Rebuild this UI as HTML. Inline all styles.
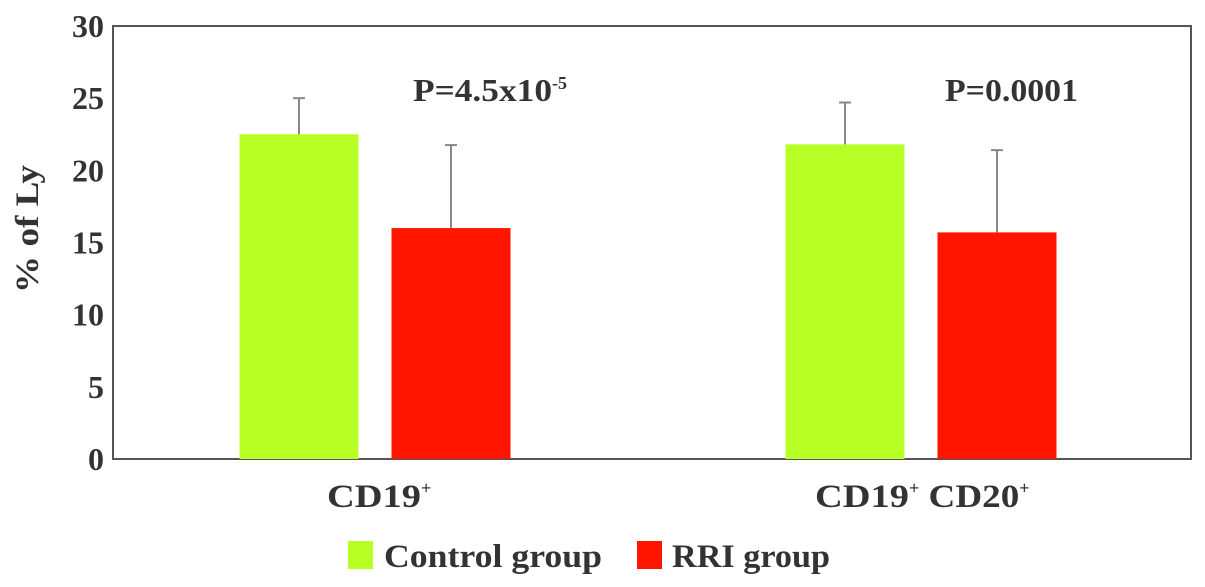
<!DOCTYPE html>
<html><head><meta charset="utf-8"><style>
html,body{margin:0;padding:0;background:#fff;}
svg{display:block;font-family:"Liberation Serif",serif;font-weight:bold;}
</style></head><body>
<svg width="1205" height="587" viewBox="0 0 1205 587">
<g id="chart"></g>
</svg>
<script>
const categories = ["CD19", "CD19 CD20"];
const controlValues = [22.5, 21.8];
const controlErrors = [2.5, 2.9];
const rriValues = [16.0, 15.7];
const rriErrors = [5.75, 5.7];
const yTicks = [0, 5, 10, 15, 20, 25, 30];
const pLabels = ["P=4.5x10", "P=0.0001"];

const NS = "http://www.w3.org/2000/svg";
const g = document.getElementById('chart');
const L = 113, R = 1191, T = 26, B = 459;
const yMax = 30;
function y(v){ return B - v / yMax * (B - T); }
const catCenters = [375, 921];
function xCat(i){ return catCenters[0] + i * (catCenters[1] - catCenters[0]); }
const barW = 119, off = 76;
function mk(tag, attrs, parent){
  const e = document.createElementNS(NS, tag);
  for (const k in attrs) e.setAttribute(k, attrs[k]);
  (parent || g).appendChild(e);
  return e;
}

const frame = mk('rect', {x:L, y:T, width:R-L, height:B-T, fill:'none', stroke:'#555', 'stroke-width':2});



yTicks.forEach(t => {
  const tx = mk('text', {x:104, y:y(t)+11, 'text-anchor':'end', 'font-size':32, fill:'#333'});
  tx.textContent = t;
  
  
});
const yt = mk('text', {x:0, y:0, transform:'translate(38,229) rotate(-90)', 'text-anchor':'middle', 'font-size':33, fill:'#333', textLength:128, lengthAdjust:'spacingAndGlyphs'});
yt.textContent = '% of Ly';



function bar(cx, v, e, color, name){
  const r = mk('rect', {x:cx-barW/2, y:y(v), width:barW, height:B-y(v), fill:color});
  
  
  const l = mk('line', {x1:cx, x2:cx, y1:y(v), y2:y(v+e), stroke:'#888', 'stroke-width':2});
  
  
  const c = mk('line', {x1:cx-6, x2:cx+6, y1:y(v+e), y2:y(v+e), stroke:'#888', 'stroke-width':2});
  
  
}

categories.forEach((c, i) => {
  const cx = xCat(i);
  bar(cx - off, controlValues[i], controlErrors[i], '#b8ff26', 'bar-control-' + i);
  bar(cx + off, rriValues[i], rriErrors[i], '#ff1500', 'bar-rri-' + i);
  const lab = mk('text', {x: i===0 ? 327 : 815, y:507, 'font-size':33, fill:'#333'});
  if (i === 0) lab.innerHTML = '<tspan textLength="94" lengthAdjust="spacingAndGlyphs">CD19</tspan><tspan dy="-13" font-size="18">+</tspan>';
  else lab.innerHTML = '<tspan textLength="94" lengthAdjust="spacingAndGlyphs">CD19</tspan><tspan dy="-13" font-size="18">+</tspan><tspan dy="13" textLength="100" lengthAdjust="spacingAndGlyphs"> CD20</tspan><tspan dy="-13" font-size="18">+</tspan>';
  
  
  const p = mk('text', {x: i===0 ? 413 : 945, y:101, 'font-size':32, fill:'#333'});
  if (i === 0) p.innerHTML = '<tspan textLength="139" lengthAdjust="spacingAndGlyphs">' + pLabels[i] + '</tspan><tspan dy="-12" font-size="18">-5</tspan>';
  else p.innerHTML = '<tspan textLength="133" lengthAdjust="spacingAndGlyphs">' + pLabels[i] + '</tspan>';
  
  
});

const lg = mk('g', {});


const s1 = mk('rect', {x:348, y:541, width:25, height:28, fill:'#b8ff26'}, lg);


const t1 = mk('text', {x:384, y:567, 'font-size':33, fill:'#333', textLength:218, lengthAdjust:'spacingAndGlyphs'}, lg);
t1.textContent = 'Control group';


const s2 = mk('rect', {x:637, y:541, width:25, height:28, fill:'#ff1500'}, lg);


const t2 = mk('text', {x:672, y:567, 'font-size':33, fill:'#333', textLength:158, lengthAdjust:'spacingAndGlyphs'}, lg);
t2.textContent = 'RRI group';


</script>
</body></html>
